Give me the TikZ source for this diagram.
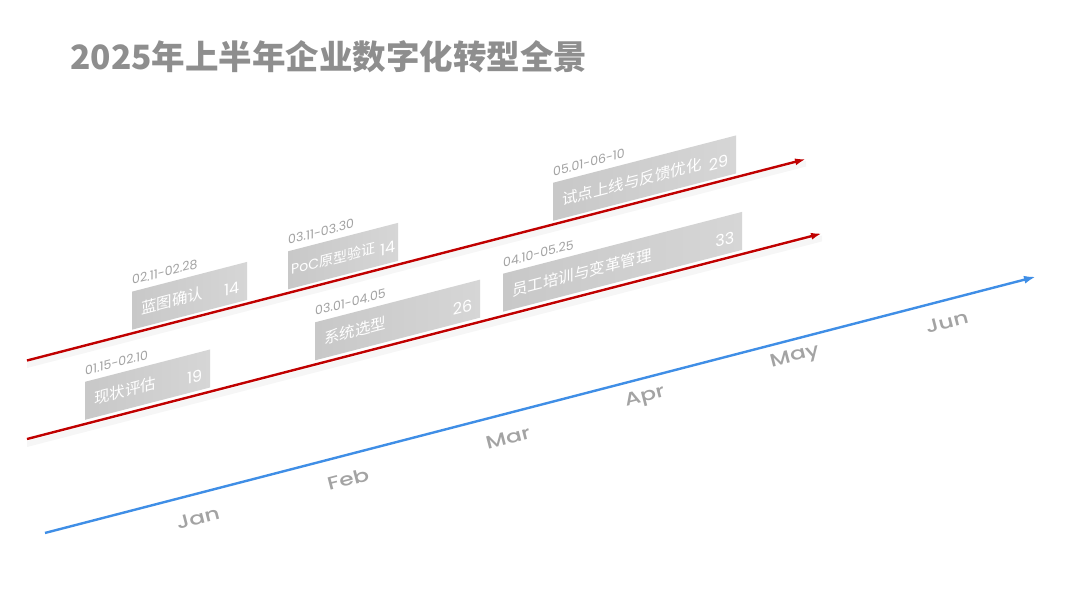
\documentclass[tikz,border=0pt]{standalone}
\usepackage{fontspec}
\setmainfont{Poppins}
\newfontfamily\cjk{Noto Sans CJK SC}
\newfontfamily\popmed{Poppins}[UprightFont={* Medium}]
\usetikzlibrary{positioning,arrows.meta}
\definecolor{trackred}{HTML}{C00000}
\definecolor{axisblue}{HTML}{3F8EE6}
\definecolor{barleft}{HTML}{C8C8C8}
\definecolor{barright}{HTML}{D6D6D6}
\definecolor{titlegray}{HTML}{8E8E8E}
\definecolor{labelgray}{HTML}{A3A3A3}
\begin{document}
\begin{tikzpicture}[
    x=1pt, y=1pt,
    bar/.style={anchor=south west, minimum height=38pt, inner sep=0pt,
                left color=barleft, right color=barright, draw=none},
    tasklbl/.style={font=\cjk\fontsize{15.5}{18}\selectfont, text=white, inner sep=0pt},
    numlbl/.style={font=\fontsize{16}{19}\selectfont, text=white, inner sep=0pt, yshift=-4pt},
    datelbl/.style={font=\fontsize{12.5}{15}\selectfont, text=labelgray, inner sep=0pt},
    monthlbl/.style={font=\popmed\fontsize{18}{21}\selectfont, text=labelgray, xscale=1.3},
    track/.style={-{Latex[length=11pt,width=7pt]}, trackred, line width=2.4pt},
    timeaxis/.style={-{Latex[length=12pt,width=8pt]}, axisblue, line width=2.4pt}
]
    \fill[white] (0,0) rectangle (1080,608);
    \useasboundingbox (0,0) rectangle (1080,608);
    % title
    \node[font=\cjk\bfseries\fontsize{33.5}{40}\selectfont, text=titlegray,
          anchor=west, inner sep=0pt] (title) at (70,551)
        {2025年上半年企业数字化转型全景};
    \begin{scope}[yslant=0.2586, transform shape]
        % soft shadows under tracks
        \fill[black, opacity=0.035] (27,233) rectangle (806,239);
        \fill[black, opacity=0.035] (27,154) rectangle (822,160);
        % lower track bars
        \node[bar, minimum width=125pt] (b1) at (85,166) {};
        \node[bar, minimum width=165pt] (b2) at (315,166) {};
        \node[bar, minimum width=239pt] (b3) at (503,166) {};
        % upper track bars
        \node[bar, minimum width=115pt] (b4) at (132,244) {};
        \node[bar, minimum width=110pt] (b5) at (288,244) {};
        \node[bar, minimum width=183pt] (b6) at (553,244) {};
        % task names
        \node[tasklbl, right=9pt of b1.west] (t1) {现状评估};
        \node[tasklbl, right=9pt of b2.west] (t2) {系统选型};
        \node[tasklbl, right=9pt of b3.west] (t3) {员工培训与变革管理};
        \node[tasklbl, right=9pt of b4.west] (t4) {蓝图确认};
        \node[tasklbl, font=\cjk\fontsize{14}{17}\selectfont, right=3pt of b5.west]
            (t5) {\fontspec{Poppins}PoC\cjk 原型验证};
        \node[tasklbl, right=9pt of b6.west] (t6) {试点上线与反馈优化};
        % durations
        \node[numlbl, left=8pt of b1.east] (n1) {19};
        \node[numlbl, left=8pt of b2.east] (n2) {26};
        \node[numlbl, left=8pt of b3.east] (n3) {33};
        \node[numlbl, left=8pt of b4.east] (n4) {14};
        \node[numlbl, left=3pt of b5.east] (n5) {14};
        \node[numlbl, left=8pt of b6.east] (n6) {29};
        % date ranges
        \node[datelbl, above right=6pt and 0pt of b1.north west] (d1) {01.15-02.10};
        \node[datelbl, above right=6pt and 0pt of b2.north west] (d2) {03.01-04.05};
        \node[datelbl, above right=6pt and 0pt of b3.north west] (d3) {04.10-05.25};
        \node[datelbl, above right=6pt and 0pt of b4.north west] (d4) {02.11-02.28};
        \node[datelbl, above right=6pt and 0pt of b5.north west] (d5) {03.11-03.30};
        \node[datelbl, above right=6pt and 0pt of b6.north west] (d6) {05.01-06-10};
        % tracks and time axis
        \coordinate (r1s) at (27,240.5);
        \coordinate (r1e) at (806,240.5);
        \coordinate (r2s) at (27,162);
        \coordinate (r2e) at (822,162);
        \coordinate (ax0) at (45,63.4);
        \coordinate (ax1) at (1036,63.4);
        \draw[track] (r1s) -- (r1e);
        \draw[track] (r2s) -- (r2e);
        \draw[timeaxis] (ax0) -- (ax1);
    \end{scope}
    % month labels (frame turned along the axis)
    \begin{scope}[rotate=14.5, transform shape]
        \node[monthlbl] (jan) at (214.2,37.5) {Jan};
        \node[monthlbl] (feb) at (369.2,37.8) {Feb};
        \node[monthlbl] (mar) at (534.4,37.4) {Mar};
        \node[monthlbl] (apr) at (677.1,41.8) {Apr};
        \node[monthlbl] (may) at (832.5,43.9) {May};
        \node[monthlbl] (jun) at (988.4,39.8) {Jun};
    \end{scope}
\end{tikzpicture}
\end{document}
